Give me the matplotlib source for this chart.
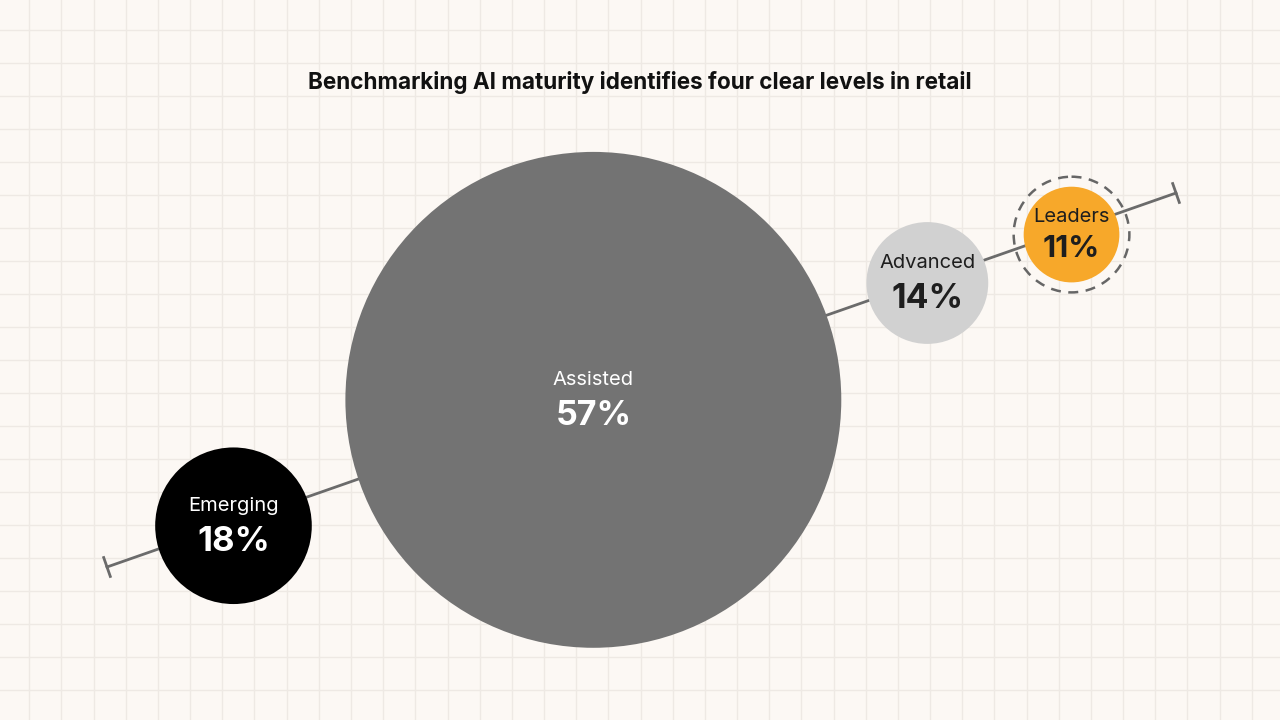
import numpy as np
import matplotlib.pyplot as plt

plt.rcParams['font.family'] = ['Inter', 'DejaVu Sans']

title = "Benchmarking AI maturity identifies four clear levels in retail"
levels = ["Emerging", "Assisted", "Advanced", "Leaders"]
shares = [18, 57, 14, 11]
fill_colors = ["#000000", "#737373", "#d1d1d1", "#f7a82a"]
text_colors = ["#ffffff", "#ffffff", "#1e1e1e", "#1e1e1e"]
pct_sizes = [25, 24.5, 24.5, 22]

bg = "#fcf8f4"
grid_c = "#eee9e4"
axis_c = "#6b6b6b"

fig = plt.figure(figsize=(12.8, 7.2), dpi=100, facecolor=bg)
ax = fig.add_axes([0, 0, 1, 1])
ax.set_facecolor(bg)
ax.set_xlim(0, 1280)
ax.set_ylim(720, 0)
ax.set_aspect("equal")
ax.axis("off")

# background grid
for gx in np.arange(29.3, 1280, 32.17):
    ax.axvline(gx, color=grid_c, lw=1.0, zorder=0)
for gy in np.arange(30, 720, 33.0):
    ax.axhline(gy, color=grid_c, lw=1.0, zorder=0)

# diagonal axis
p0 = np.array([107.0, 567.0])
p1 = np.array([1176.0, 193.0])
u = (p1 - p0) / np.linalg.norm(p1 - p0)
n = np.array([-u[1], u[0]])
ax.plot([p0[0], p1[0]], [p0[1], p1[1]], color=axis_c, lw=2, zorder=1)
for p in (p0, p1):
    a, b = p - n * 10, p + n * 10
    ax.plot([a[0], b[0]], [a[1], b[1]], color=axis_c, lw=2, zorder=1)

# circles, radius proportional to share, spaced along the axis
scale = 4.35
gaps = [55, 45, 44]
radii = [s * scale for s in shares]
dist = 134
for i, (lvl, s, r) in enumerate(zip(levels, shares, radii)):
    if i > 0:
        dist += radii[i - 1] + gaps[i - 1] + r
    c = p0 + u * dist + np.array([0, 3])
    if lvl == "Leaders":
        c = c + np.array([0, 2])
        ax.add_patch(plt.Circle(c, r + 10, fill=False, ec="#666666", lw=1.8,
                                ls=(0, (4, 3)), zorder=2))
    ax.add_patch(plt.Circle(c, r, color=fill_colors[i], lw=0, zorder=3))
    fs = pct_sizes[i]
    ax.text(c[0], c[1] - 0.8 * fs, lvl, color=text_colors[i], fontsize=14.5,
            ha="center", va="center", zorder=4)
    ax.text(c[0], c[1] + 0.66 * fs, f"{s}%", color=text_colors[i], fontsize=fs,
            fontweight="bold", ha="center", va="center", zorder=4)

ax.text(640, 83, title, fontsize=16.2, fontweight="bold", color="#111111",
        ha="center", va="center", zorder=4)

fig.savefig("out.png", dpi=100, facecolor=bg)
